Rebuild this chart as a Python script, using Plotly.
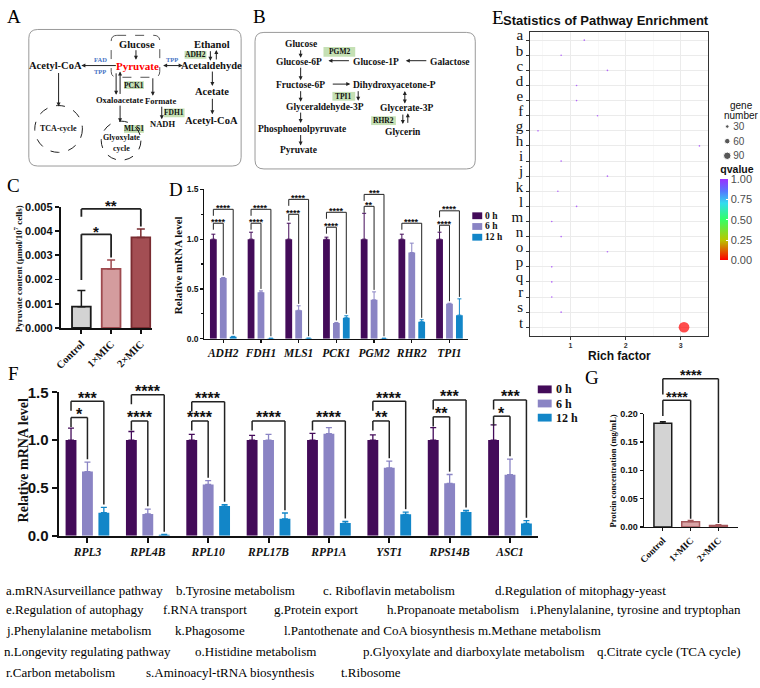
import plotly.graph_objects as go

W, H = 760, 688
SERIF = "Liberation Serif"
SANS = "Liberation Sans"


def X(p):
    return p / W


def Y(p):
    return 1 - p / H


# ---------------- data ----------------
# Panel C : pyruvate content
c_groups = ["Control", "1×MIC", "2×MIC"]
c_mean = [0.00088, 0.00244, 0.00374]
c_err_top = [0.00155, 0.00281, 0.00409]
# (from, to, bracket level, left-leg end, stars)
c_sig = [("Control", "1×MIC", 0.00387, 0.00198, "*"),
         ("Control", "2×MIC", 0.00492, 0.00460, "**")]

# Panel D : relative mRNA (metabolism genes)
d_genes = ["ADH2", "FDH1", "MLS1", "PCK1", "PGM2", "RHR2", "TPI1"]
d_times = ["0 h", "6 h", "12 h"]
d_0h = [1.0, 1.0, 1.0, 1.0, 1.0, 1.0, 1.0]
d_0h_err = [1.05, 1.07, 1.16, 1.02, 1.26, 1.05, 1.07]
d_6h = [0.61, 0.466, 0.285, 0.157, 0.39, 0.866, 0.35]
d_6h_err = [0.615, 0.48, 0.33, 0.163, 0.47, 0.96, 0.356]
d_12h = [0.02, 0.003, 0.004, 0.21, 0.003, 0.17, 0.236]
d_12h_err = [0.023, 0.004, 0.005, 0.23, 0.004, 0.19, 0.40]
# (gene index, target time index, level, stars)
d_sig = [(0, 1, 1.16, "****"), (0, 2, 1.30, "****"),
         (1, 1, 1.16, "****"), (1, 2, 1.30, "****"),
         (2, 1, 1.25, "****"), (2, 2, 1.40, "****"),
         (3, 1, 1.12, "****"), (3, 2, 1.27, "****"),
         (4, 1, 1.33, "**"), (4, 2, 1.45, "***"),
         (5, 2, 1.16, "****"),
         (6, 1, 1.14, "****"), (6, 2, 1.285, "****")]

# Panel E : pathway enrichment
e_terms = list("abcdefghijklmnopqrst")
e_rich = [1.25, 0.83, 1.67, 1.11, 1.11, 1.49, 0.41, 3.34, 0.83, 1.67,
          0.77, 1.11, 0.66, 0.83, 1.67, 0.66, 0.66, 0.66, 0.83, 3.06]
e_genes = [1, 1, 1, 1, 1, 1, 1, 1, 1, 1, 1, 1, 1, 1, 1, 1, 1, 1, 1, 140]
e_q = [1.0] * 19 + [0.0]
gn_breaks = [30, 60, 90]
q_ticks = [0, 0.25, 0.5, 0.75, 1.0]

# Panel F : relative mRNA (ribosome genes)
f_genes = ["RPL3", "RPL4B", "RPL10", "RPL17B", "RPP1A", "YST1", "RPS14B", "ASC1"]
f_0h = [1.0, 1.0, 1.0, 1.0, 1.0, 1.0, 1.0, 1.0]
f_0h_err = [1.125, 1.09, 1.06, 1.05, 1.07, 1.055, 1.13, 1.16]
f_6h = [0.67, 0.227, 0.535, 1.0, 1.067, 0.71, 0.548, 0.637]
f_6h_err = [0.77, 0.278, 0.576, 1.06, 1.13, 0.78, 0.64, 0.80]
f_12h = [0.24, 0.01, 0.31, 0.176, 0.132, 0.223, 0.247, 0.127]
f_12h_err = [0.295, 0.012, 0.325, 0.237, 0.15, 0.247, 0.264, 0.158]
f_sig = [(0, 1, 1.237, "*"), (0, 2, 1.407, "***"),
         (1, 1, 1.20, "****"), (1, 2, 1.475, "****"),
         (2, 1, 1.20, "****"), (2, 2, 1.40, "****"),
         (3, 2, 1.20, "****"),
         (4, 2, 1.20, "****"),
         (5, 1, 1.20, "**"), (5, 2, 1.407, "****"),
         (6, 1, 1.243, "**"), (6, 2, 1.42, "***"),
         (7, 1, 1.25, "*"), (7, 2, 1.42, "***")]

# Panel G : protein concentration
g_groups = ["Control", "1×MIC", "2×MIC"]
g_mean = [0.1833, 0.0092, 0.0023]
g_err_top = [0.186, 0.0115, 0.004]
g_sig = [(0, 1, 0.224, "****"), (0, 2, 0.262, "****")]

# pathway key text
key_rows = [
    ["a.mRNAsurveillance pathway", "b.Tyrosine metabolism", "c. Riboflavin metabolism",
     "d.Regulation of mitophagy-yeast"],
    ["e.Regulation of autophagy", "f.RNA transport", "g.Protein export",
     "h.Propanoate metabolism", "i.Phenylalanine, tyrosine and tryptophan"],
    ["j.Phenylalanine metabolism", "k.Phagosome", "l.Pantothenate and CoA biosynthesis",
     "m.Methane metabolism"],
    ["n.Longevity regulating pathway", "o.Histidine metabolism",
     "p.Glyoxylate and diarboxylate metabolism", "q.Citrate cycle (TCA cycle)"],
    ["r.Carbon metabolism", "s.Aminoacyl-tRNA biosynthesis", "t.Ribosome"],
]

# ---------------- styles ----------------
TIME_COLORS = ["#430b59", "#8a84c4", "#1286c8"]
C_FILL = ["#d3d3d3", "#d49c9e", "#a34e53"]
C_EDGE = ["#1a1a1a", "#9e4a4f", "#7a2c31"]
G_FILL = ["#d3d3d3", "#d9a3a5", "#c98f92"]
G_EDGE = ["#1a1a1a", "#a5585c", "#a5585c"]
Q_SCALE = [[0, "#ff0000"], [0.25, "#b8c800"], [0.5, "#33ff66"],
           [0.7, "#33ddee"], [0.85, "#5577ff"], [1, "#9b30ff"]]

DOM = {
    "C": ([X(55), X(147)], [Y(327), Y(203)]),
    "D": ([X(200), X(466)], [Y(338), Y(185)]),
    "E": ([X(528.3), X(707.3)], [Y(335), Y(23.3)]),
    "F": ([X(53), X(536)], [Y(540), Y(393)]),
    "G": ([X(643), X(738)], [Y(531), Y(415)]),
    "GN": ([X(722), X(732)], [Y(158), Y(113)]),
}
RNG = {"C": [0, 0.005], "D": [0, 1.5], "F": [0, 1.5], "G": [0, 0.2]}
LPAD = 4  # annotation inner padding for left-anchored text


def yp(panel, v):
    dom = DOM[panel][1]
    r = RNG[panel]
    return dom[0] + (v - r[0]) / (r[1] - r[0]) * (dom[1] - dom[0])


shapes = []
annots = []


def text(x, y, s, size, color="#111", bold=True, family=SERIF, anchor="center", angle=0):
    if anchor == "left":
        x -= LPAD
    annots.append(dict(x=X(x), y=Y(y), xref="paper", yref="paper", text=("<b>%s</b>" % s) if bold else s,
                       showarrow=False, xanchor=anchor, yanchor="middle", textangle=angle,
                       font=dict(family=family, size=size, color=color)))


def arrow(x0, y0, x1, y1, both=False):
    annots.append(dict(x=X(x1), y=Y(y1), xref="paper", yref="paper", ax=x0 - x1, ay=y0 - y1,
                       axref="pixel", ayref="pixel", text="", showarrow=True,
                       arrowhead=2, arrowsize=0.8, arrowwidth=1, arrowcolor="#222",
                       startarrowhead=2, startarrowsize=0.8,
                       arrowside="end+start" if both else "end", standoff=0, startstandoff=0))


def rrect(x0, y0, x1, y1, r, color="#9a9a9a", dash="solid", width=1):
    p = ("M{a},{b} L{c},{b} Q{d},{b} {d},{e} L{d},{f} Q{d},{g} {c},{g} L{a},{g} "
         "Q{h},{g} {h},{f} L{h},{e} Q{h},{b} {a},{b} Z").format(
        a=X(x0 + r), b=Y(y0), c=X(x1 - r), d=X(x1), e=Y(y0 + r), f=Y(y1 - r), g=Y(y1), h=X(x0))
    shapes.append(dict(type="path", path=p, xref="paper", yref="paper",
                       line=dict(color=color, width=width, dash=dash)))


def circle(cx, cy, r, dash="dash"):
    shapes.append(dict(type="circle", xref="paper", yref="paper", x0=X(cx - r), x1=X(cx + r),
                       y0=Y(cy + r), y1=Y(cy - r), line=dict(color="#222", width=1, dash=dash)))


def gbox(x0, y0, x1, y1, s):
    shapes.append(dict(type="rect", xref="paper", yref="paper", x0=X(x0), x1=X(x1), y0=Y(y1), y1=Y(y0),
                       fillcolor="#c5e0b4", line=dict(width=0)))
    text((x0 + x1) / 2, (y0 + y1) / 2, s, 7.5)


# ---------------- panel A ----------------
rrect(23, 21, 237, 161, 9)
rrect(106, 27, 155, 70, 6, color="#555", dash="dash")
text(132, 36, "Glucose", 10.5)
text(133, 58, "Pyruvate", 11, color="#ff0000")
text(50, 58, "Acetyl-CoA", 10.5)
text(95, 52, "FAD", 6.5, color="#4472c4")
text(95, 64, "TPP", 6.5, color="#4472c4")
text(167, 52, "TPP", 6.5, color="#4472c4")
text(207, 58, "Acetaldehyde", 10.5)
text(208, 36, "Ethanol", 10.5)
gbox(180, 43, 202, 51, "ADH2")
text(208, 85, "Acetate", 10.5)
text(207, 114, "Acetyl-CoA", 10.5)
text(114, 93, "Oxaloacetate", 8.5)
text(156, 94, "Formate", 8.5)
text(158, 118, "NADH", 8.5)
gbox(119, 74, 139, 82, "PCK1")
gbox(159, 102, 180, 111, "FDH1")
gbox(119, 119, 139, 127, "MLS1")
circle(53, 123, 24)
text(53, 123, "TCA-cycle", 8)
circle(116, 135, 20)
text(116, 132, "Glyoxylate", 8)
text(116, 143, "cycle", 8)
arrow(131, 41, 131, 52)
arrow(112, 58, 76, 58)
arrow(53, 65, 53, 100)
arrow(157, 58, 178, 58, both=True)
arrow(206, 42, 206, 53)
arrow(212, 53, 212, 42)
arrow(208, 63, 208, 79)
arrow(208, 91, 208, 108)
arrow(111, 65, 111, 88)
arrow(115, 88, 115, 64)
arrow(148, 70, 148, 89)
arrow(157, 99, 157, 113)
arrow(115, 98, 115, 116)

# ---------------- panel B ----------------
rrect(251, 24, 473, 164, 9)
text(297, 36, "Glucose", 9.5)
text(295, 54, "Glucose-6P", 9.5)
gbox(320, 39, 352, 49, "PGM2")
text(373, 54, "Glucose-1P", 9.5)
text(448, 54, "Galactose", 9.5)
text(297, 78, "Fructose-6P", 9.5)
text(392, 78, "Dihydroxyacetone-P", 9.5)
gbox(329, 85, 352, 94, "TPI1")
text(322, 100, "Glyceraldehyde-3P", 9.5)
text(404, 101, "Glycerate-3P", 9.5)
gbox(368, 110, 393, 119, "RHR2")
text(400, 126, "Glycerin", 9.5)
text(298, 123, "Phosphoenolpyruvate", 9.5)
text(295, 145, "Pyruvate", 9.5)
arrow(297, 41, 297, 50)
arrow(347, 53, 325, 53)
arrow(425, 53, 403, 53)
arrow(297, 59, 297, 73)
arrow(328, 77, 347, 77)
arrow(355, 83, 355, 94)
arrow(402, 83, 402, 97, both=True)
arrow(297, 83, 297, 95)
arrow(400, 107, 400, 118)
arrow(405, 118, 405, 107)
arrow(297, 105, 297, 117)
arrow(297, 128, 297, 140)

# panel letters
for s, x, y in [("A", 8, 8), ("B", 256, 8), ("C", 8, 181), ("D", 171, 185),
                ("E", 496, 9), ("F", 8, 374), ("G", 591, 378)]:
    text(x, y, s, 19, bold=False, family=SERIF, color="#000")

fig = go.Figure()


def bracket(panel, xref, xa, xb, level, left_end, right_end, stars, fs, lw, shift):
    ya, yl, yr = yp(panel, level), yp(panel, left_end), yp(panel, right_end)
    for (x0, y0, x1, y1) in [(xa, yl, xa, ya), (xa, ya, xb, ya), (xb, ya, xb, yr)]:
        shapes.append(dict(type="line", xref=xref, yref="paper", x0=x0, x1=x1, y0=y0, y1=y1,
                           line=dict(color="#222", width=lw)))
    annots.append(dict(x=(xa + xb) / 2, y=ya, xref=xref, yref="paper", text="<b>%s</b>" % stars,
                       showarrow=False, yanchor="middle", yshift=shift, borderpad=0,
                       font=dict(family=SANS, size=fs, color="#111")))


# ---------------- panel C ----------------
CW = 0.63
for i, g in enumerate(c_groups):
    fig.add_trace(go.Bar(x=[g], y=[c_mean[i]], xaxis="x", yaxis="y", width=CW, offset=-CW / 2,
                         marker=dict(color=C_FILL[i], line=dict(color=C_EDGE[i], width=1.8)),
                         error_y=dict(type="data", symmetric=False, array=[c_err_top[i] - c_mean[i]],
                                      arrayminus=[0], color=C_EDGE[i], thickness=1.5, width=4),
                         showlegend=False))
for a, b, lev, le, st in c_sig:
    ia, ib = c_groups.index(a), c_groups.index(b)
    bracket("C", "x", ia, ib, lev, le, c_err_top[ib] + 0.0001, st, 15, 1.8, 3)

# ---------------- panel D ----------------
DW = 0.18
D_DELTA = [-0.263, 0, 0.263]
d_vals = [d_0h, d_6h, d_12h]
d_errs = [d_0h_err, d_6h_err, d_12h_err]
for t in range(3):
    fig.add_trace(go.Bar(x=d_genes, y=d_vals[t], xaxis="x2", yaxis="y2", width=DW,
                         offset=D_DELTA[t] - DW / 2, name=d_times[t],
                         marker=dict(color=TIME_COLORS[t], line=dict(width=0)),
                         error_y=dict(type="data", symmetric=False,
                                      array=[e - v for e, v in zip(d_errs[t], d_vals[t])],
                                      arrayminus=[0] * len(d_genes), color=TIME_COLORS[t],
                                      thickness=1, width=2),
                         showlegend=False))
for gi, tt, lev, st in d_sig:
    bracket("D", "x2", gi + D_DELTA[0], gi + D_DELTA[tt], lev, lev - 0.065,
            d_errs[tt][gi] + 0.02, st, 9, 1, 1.5)
for t in range(3):
    yc = 212 + 11 * t
    shapes.append(dict(type="rect", xref="paper", yref="paper", x0=X(470), x1=X(480),
                       y0=Y(yc + 3.5), y1=Y(yc - 3.5), fillcolor=TIME_COLORS[t], line=dict(width=0)))
    text(485, yc, d_times[t], 9.5, anchor="left")

# ---------------- panel E ----------------
def gsize(n):
    return 1.6 + 0.065 * n


fig.add_trace(go.Scatter(x=e_rich, y=e_terms, xaxis="x3", yaxis="y3", mode="markers",
                         marker=dict(size=[gsize(n) for n in e_genes], color=e_q, cmin=0, cmax=1,
                                     colorscale=Q_SCALE, showscale=True, line=dict(width=0),
                                     colorbar=dict(x=X(720), xanchor="left", y=Y(207.5), yanchor="middle",
                                                   len=100 / H, lenmode="fraction", thickness=8,
                                                   thicknessmode="pixels", outlinewidth=0,
                                                   tickvals=q_ticks,
                                                   ticktext=["%.2f" % v for v in q_ticks],
                                                   tickfont=dict(family=SANS, size=11, color="#4d4d4d"),
                                                   ticks="inside", tickcolor="white", ticklen=2,
                                                   xpad=0, ypad=0,
                                                   title=dict(text="<b>qvalue</b>", side="top",
                                                              font=dict(family=SANS, size=10.5,
                                                                        color="#111")))),
                         showlegend=False))
fig.add_trace(go.Scatter(x=[0] * len(gn_breaks), y=[str(v) for v in gn_breaks], xaxis="x6", yaxis="y6",
                         mode="markers", marker=dict(size=[gsize(n) for n in gn_breaks], color="#111"),
                         showlegend=False))
text(741, 99, "gene", 10, bold=False, family=SANS)
text(741, 109, "number", 10, bold=False, family=SANS)
text(503, 12, "Statistics of Pathway Enrichment", 13, family=SANS, anchor="left")
text(618, 356, "Rich factor", 12, family=SANS)

# ---------------- panel F ----------------
FW = 0.18
F_DELTA = [-0.272, 0, 0.272]
f_vals = [f_0h, f_6h, f_12h]
f_errs = [f_0h_err, f_6h_err, f_12h_err]
for t in range(3):
    fig.add_trace(go.Bar(x=f_genes, y=f_vals[t], xaxis="x4", yaxis="y4", width=FW,
                         offset=F_DELTA[t] - FW / 2, name=d_times[t],
                         marker=dict(color=TIME_COLORS[t], line=dict(width=0)),
                         error_y=dict(type="data", symmetric=False,
                                      array=[e - v for e, v in zip(f_errs[t], f_vals[t])],
                                      arrayminus=[0] * len(f_genes), color=TIME_COLORS[t],
                                      thickness=1.3, width=3),
                         showlegend=False))
for gi, tt, lev, st in f_sig:
    bracket("F", "x4", gi + F_DELTA[0], gi + F_DELTA[tt], lev, lev - 0.1,
            f_errs[tt][gi] + 0.03, st, 16, 1.5, 3)
for t in range(3):
    yc = 390 + 14.5 * t
    shapes.append(dict(type="rect", xref="paper", yref="paper", x0=X(536), x1=X(550),
                       y0=Y(yc + 4), y1=Y(yc - 4), fillcolor=TIME_COLORS[t], line=dict(width=0)))
    text(556, yc, d_times[t], 12, anchor="left")

# ---------------- panel G ----------------
GW = 0.64
for i, g in enumerate(g_groups):
    fig.add_trace(go.Bar(x=[g], y=[g_mean[i]], xaxis="x5", yaxis="y5", width=GW, offset=-GW / 2,
                         marker=dict(color=G_FILL[i], line=dict(color=G_EDGE[i], width=1.5)),
                         error_y=dict(type="data", symmetric=False, array=[g_err_top[i] - g_mean[i]],
                                      arrayminus=[0], color=G_EDGE[i], thickness=1.2, width=3),
                         showlegend=False))
for ia, ib, lev, st in g_sig:
    bracket("G", "x5", ia, ib, lev, lev - 0.028, g_err_top[ib] + 0.003, st, 14, 1.5, 3.5)

# axis titles
text(13, 266, "Pyruvate content (μmol/10<sup>7</sup> cells)", 9, angle=-90)
text(173, 263, "Relative mRNA level", 11, angle=-90)
text(18, 462, "Relative mRNA level", 14, angle=-90)
text(612, 474, "Protein concentration (mg/mL)", 8.5, angle=-90)

# pathway key
row_y = [596, 616, 637, 659, 680]
row_x = [[2, 173, 322, 495], [2, 160, 272, 386, 530], [2, 172, 282, 478],
         [0, 192, 362, 598], [2, 143, 340]]
for r, items in enumerate(key_rows):
    for s, x in zip(items, row_x[r]):
        text(x, row_y[r], s, 13, bold=False, anchor="left", color="#000")


def bar_x(dom, rng, cats, angle=0, font=None, lw=1.5, tl=4):
    return dict(domain=dom, range=rng, type="category", categoryorder="array", categoryarray=cats,
                showline=True, linecolor="#111", linewidth=lw, ticks="outside", ticklen=tl,
                tickwidth=lw, tickcolor="#111", tickangle=angle, showgrid=False, zeroline=False,
                tickfont=font, fixedrange=True)


def bar_y(dom, rng, dtick, fmt, font, lw=1.5, tl=4, minor=None):
    d = dict(domain=dom, range=rng, dtick=dtick, tick0=0, tickformat=fmt, showline=True,
             linecolor="#111", linewidth=lw, ticks="outside", ticklen=tl, tickwidth=lw,
             tickcolor="#111", showgrid=False, zeroline=False, tickfont=font)
    if minor:
        d["minor"] = minor
    return d


fig.update_layout(
    width=W, height=H, margin=dict(l=0, r=0, t=0, b=0), autosize=False,
    paper_bgcolor="white", plot_bgcolor="white", barmode="overlay",
    font=dict(family=SANS, color="#111"),
    xaxis=dict(**bar_x([DOM["C"][0][0], DOM["C"][0][1]], [-0.7, 2.37], c_groups, -45,
                       dict(family=SERIF, size=10.5, weight="bold", color="#111"), 1.8), anchor="y"),
    yaxis=dict(**bar_y(DOM["C"][1], RNG["C"], 0.001, ".3f",
                       dict(family=SANS, size=11, weight="bold", color="#111"), 1.8), anchor="x"),
    xaxis2=dict(**bar_x(DOM["D"][0], [-0.5, 6.5], d_genes, 0,
                        dict(family=SERIF, size=11.5, weight="bold", style="italic", color="#111"), 1.2, 3),
                anchor="y2"),
    yaxis2=dict(**bar_y(DOM["D"][1], RNG["D"], 0.5, ".1f",
                        dict(family=SANS, size=8.5, weight="bold", color="#111"), 1.2, 3,
                        minor=dict(dtick=0.25, ticks="outside", ticklen=2, tickcolor="#111")),
                anchor="x2"),
    xaxis3=dict(domain=DOM["E"][0], range=[0.267, 3.49], tickvals=[1, 2, 3], anchor="y3",
                showline=True, mirror=True, linecolor="#333", linewidth=1, ticks="outside", ticklen=3,
                tickcolor="#333", showgrid=True, gridcolor="#ebebeb", gridwidth=1, zeroline=False,
                minor=dict(tickvals=[0.5, 1.5, 2.5], showgrid=True, gridcolor="#f4f4f4", gridwidth=0.6),
                tickfont=dict(family=SANS, size=7, weight="bold", color="#333")),
    yaxis3=dict(domain=DOM["E"][1], type="category", categoryorder="array", categoryarray=e_terms,
                tickmode="array", tickvals=e_terms, ticktext=e_terms,
                range=[19.56, -0.56], anchor="x3", showline=True, mirror=True, linecolor="#333",
                linewidth=1, ticks="outside", ticklen=3, tickcolor="#333", showgrid=True,
                gridcolor="#ebebeb", zeroline=False, ticklabelshift=5,
                tickfont=dict(family=SERIF, size=15, color="#111")),
    xaxis4=dict(**bar_x(DOM["F"][0], [-0.478, 7.46], f_genes, 0,
                        dict(family=SERIF, size=11.5, weight="bold", style="italic", color="#111"), 2, 5),
                anchor="y4"),
    yaxis4=dict(**bar_y(DOM["F"][1], RNG["F"], 0.5, ".1f",
                        dict(family=SANS, size=15, weight="bold", color="#111"), 2, 5), anchor="x4"),
    xaxis5=dict(**bar_x(DOM["G"][0], [-0.68, 2.71], g_groups, -45,
                        dict(family=SERIF, size=9.5, weight="bold", color="#111"), 1.3, 3), anchor="y5"),
    yaxis5=dict(**bar_y(DOM["G"][1], RNG["G"], 0.05, ".2f",
                        dict(family=SANS, size=9, weight="bold", color="#111"), 1.3, 3), anchor="x5"),
    xaxis6=dict(domain=DOM["GN"][0], range=[-1, 1], visible=False, anchor="y6"),
    yaxis6=dict(domain=DOM["GN"][1], type="category", categoryorder="array",
                categoryarray=[str(v) for v in gn_breaks], range=[2.5, -0.5], side="right",
                anchor="x6", showline=False, showgrid=False, zeroline=False, ticks="",
                tickfont=dict(family=SANS, size=10, color="#4d4d4d")),
    shapes=shapes, annotations=annots,
)

fig.write_html("out.html", config={"displayModeBar": False, "staticPlot": True},
               post_script="document.body.style.margin='0';document.body.style.padding='0';"
                           "document.documentElement.style.overflow='hidden';")
